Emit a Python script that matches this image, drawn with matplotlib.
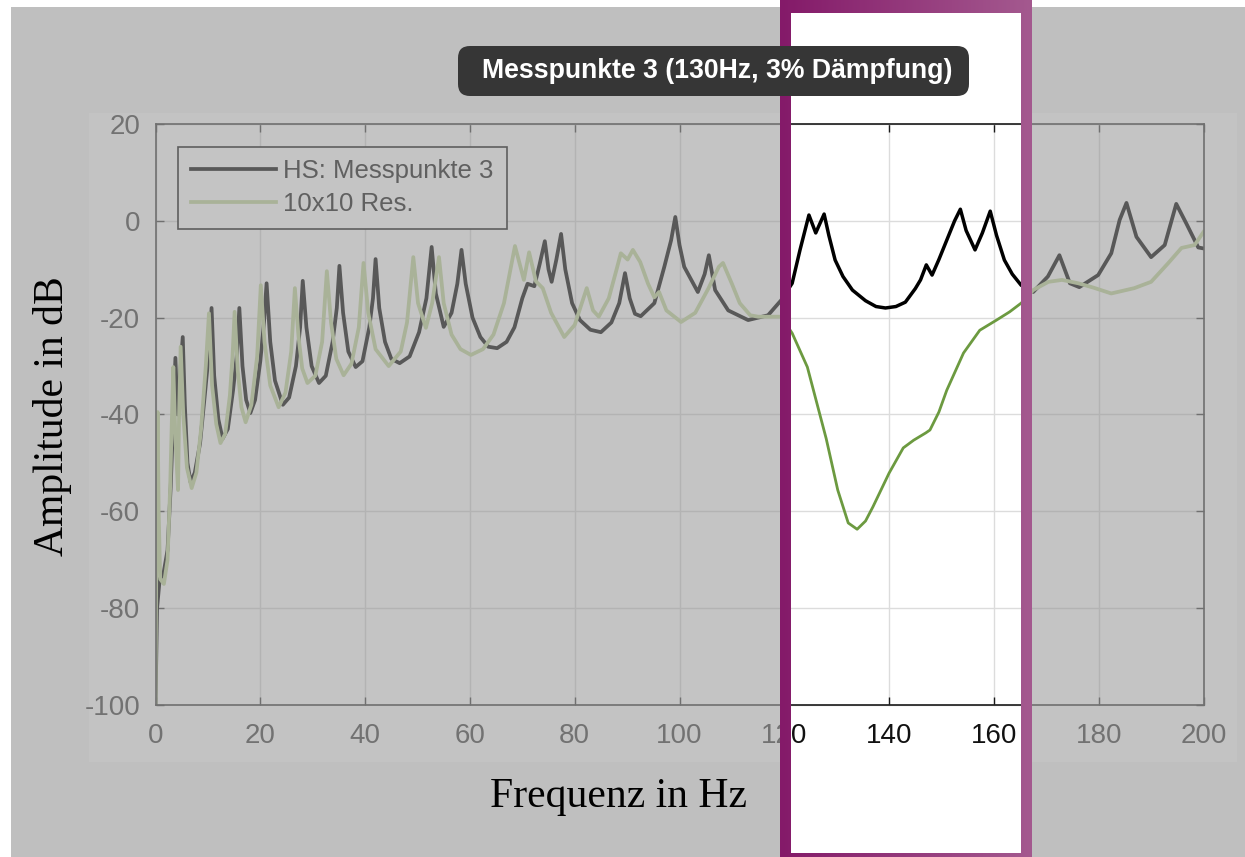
import numpy as np
import matplotlib
matplotlib.use('Agg')
import matplotlib.pyplot as plt
from matplotlib.patches import Rectangle, FancyBboxPatch
from matplotlib.transforms import Bbox, TransformedBbox
from matplotlib.colors import LinearSegmentedColormap

plt.rcParams['axes.unicode_minus'] = False
plt.rcParams['font.family'] = ['Liberation Sans', 'DejaVu Sans']

W, H = 1245, 857

# frequency response: (Hz, dB)
hs_trace = [
    (0, -100), (0.3, -80), (0.8, -74), (1.5, -73), (2.3, -68), (2.9, -55), (3.4, -40),
    (3.8, -28.3), (4.2, -40), (4.6, -33), (5.2, -24), (5.6, -38), (6.1, -50), (6.7, -54),
    (7.5, -52), (8.5, -46), (9.5, -35), (10.2, -27), (10.7, -18), (11.2, -32), (12.0, -41),
    (12.8, -45), (13.8, -43), (14.8, -35), (15.5, -28), (16.0, -18), (16.6, -30), (17.3, -37),
    (18.1, -39.7), (19.0, -37), (20.0, -29), (20.7, -21), (21.2, -12.9), (21.9, -25),
    (22.8, -33), (24.3, -38), (25.5, -36.5), (26.8, -30), (27.6, -22), (28.1, -12.4),
    (28.8, -22), (29.8, -30), (31.2, -33.5), (32.5, -32), (33.8, -25), (34.6, -18),
    (35.1, -9.3), (35.8, -19), (36.8, -27), (38.2, -30.2), (39.5, -29), (40.8, -22),
    (41.5, -16), (42.0, -7.9), (42.7, -18), (43.8, -25), (45.0, -28.5), (46.6, -29.4),
    (48.5, -28), (50.3, -23), (51.7, -16), (52.7, -5.4), (53.5, -15), (55.0, -21.9),
    (56.5, -19), (57.6, -13), (58.4, -6.0), (59.2, -13), (60.5, -20), (62.0, -24),
    (63.5, -26), (65.2, -26.3), (67.0, -25), (68.5, -22), (70.0, -16), (71.0, -13),
    (72.3, -13.5), (73.3, -9), (74.3, -4.2), (75.0, -10), (75.6, -12.6), (76.5, -8),
    (77.4, -2.7), (78.2, -10), (79.5, -17), (81.0, -20.5), (83.0, -22.5), (85.0, -23),
    (87.0, -21), (88.5, -17), (89.6, -10.8), (90.5, -16), (91.5, -19.2), (92.6, -19.7),
    (95.2, -17.0), (97.1, -9.5), (98.4, -4), (99.2, 0.8), (100.0, -5), (100.9, -9.5),
    (103.5, -14.7), (104.8, -11), (105.6, -7.1), (106.8, -14.3), (109.3, -18.5),
    (113.1, -20.5), (116.9, -19.5), (119.4, -16.4), (121.5, -12.9), (123.0, -6),
    (124.7, 1.2), (126.0, -2.5), (127.6, 1.4), (128.5, -3), (129.7, -8.1), (131.2, -11.5),
    (133.0, -14.3), (135.5, -16.5), (137.5, -17.7), (139.3, -18.0), (141.3, -17.7),
    (143.1, -16.8), (145.0, -14), (146.0, -12.2), (147.1, -9.1), (148.2, -11.2),
    (149.5, -8), (151.0, -4), (152.5, 0), (153.6, 2.4), (154.7, -2), (156.4, -6.0),
    (157.8, -2.5), (159.3, 2.0), (160.5, -3), (162.0, -8.1), (163.5, -11), (165.2, -13.3),
    (167.5, -14.7), (170.3, -11.5), (172.5, -7.1), (174.5, -12.9), (176.3, -13.7),
    (179.9, -11.2), (182.4, -6.7), (184.0, 0.2), (185.3, 3.7), (187.2, -3.3), (190.0, -7.5),
    (192.6, -5), (194.8, 3.5), (196.7, -0.5), (198.0, -3.3), (199.0, -5.5), (200.0, -5.7),
]

res_trace = [
    (0, -100), (0.2, -60), (0.4, -39.5), (0.6, -60), (0.9, -74), (1.6, -75), (2.3, -70),
    (2.8, -55), (3.1, -42), (3.4, -30.2), (3.8, -45), (4.3, -55.6), (4.5, -40), (4.8, -26),
    (5.3, -40), (6.0, -51), (6.9, -55.2), (7.8, -52), (8.7, -43), (9.6, -30), (10.2, -19.1),
    (10.8, -34), (11.6, -42), (12.4, -45.9), (13.3, -44), (14.2, -36), (14.7, -28),
    (15.1, -18.8), (15.7, -31), (16.4, -38.5), (17.2, -41.6), (18.3, -38), (19.4, -28),
    (20.1, -13.3), (20.8, -25), (21.9, -34), (23.5, -38.5), (24.8, -35.5), (25.9, -27),
    (26.6, -13.9), (27.3, -24), (28.0, -30.5), (29.0, -33.5), (30.5, -32), (31.8, -25),
    (32.7, -10.4), (33.5, -21), (34.5, -28.5), (35.9, -31.9), (37.4, -29.5), (38.8, -22),
    (39.7, -8.7), (40.6, -19), (42.0, -26.5), (44.5, -30), (46.8, -27), (48.0, -21),
    (49.2, -7.5), (50.1, -17), (51.6, -22.1), (52.8, -17), (54.1, -7.5), (55.0, -17),
    (56.5, -23.5), (58.2, -26.5), (60.2, -27.7), (62.5, -26.5), (64.5, -23.5), (66.5, -17),
    (68.6, -5.2), (70.3, -12.2), (71.3, -6.5), (72.6, -12.5), (73.9, -13.9), (75.5, -19),
    (78.0, -24), (80.0, -21.5), (82.3, -13.9), (83.5, -18.5), (84.6, -19.8), (86.5, -16),
    (88.0, -10), (88.8, -6.7), (90.1, -8), (91.1, -6), (92.5, -8.5), (94.0, -13),
    (95.2, -15.8), (96.1, -14.7), (97.5, -18.5), (100.3, -20.9), (103.0, -19), (105.5, -14),
    (107.5, -9.5), (108.3, -8.7), (110.0, -13), (111.5, -17), (113.5, -19.5), (115.0, -19.8),
    (119.4, -19.8), (121.5, -23.2), (124.4, -30.2), (126.7, -39.7), (128.0, -45),
    (130.2, -55.6), (132.2, -62.4), (133.9, -63.7), (135.5, -62), (136.9, -59.1),
    (140.0, -52.1), (142.7, -46.9), (144.7, -45.3), (147.0, -43.8), (147.8, -43.2),
    (149.5, -39.5), (151.0, -35), (154.2, -27.3), (157.3, -22.6), (160.5, -20.5),
    (163.0, -18.8), (165.2, -17.0), (167.5, -14.3), (170.4, -12.6), (173.0, -12.2),
    (176.1, -12.9), (179.0, -13.8), (182.4, -15), (186.8, -13.9), (190.0, -12.6),
    (193.3, -8.7), (195.8, -5.6), (198.3, -5.0), (200.0, -2.3),
]

freq_ticks = [0, 20, 40, 60, 80, 100, 120, 140, 160, 180, 200]
db_ticks = [-100, -80, -60, -40, -20, 0, 20]
series_labels = ['HS: Messpunkte 3', '10x10 Res.']
box_title = 'Messpunkte 3 (130Hz, 3% Dämpfung)'
x_label = 'Frequenz in Hz'
y_label = 'Amplitude in dB'

hs_f, hs_db = np.array(hs_trace).T
res_f, res_db = np.array(res_trace).T


def fig_box(x0, y0, x1, y1):
    # pixel box (top-left origin) -> figure fraction rect
    return [x0 / W, 1 - y1 / H, (x1 - x0) / W, (y1 - y0) / H]


def style_axes(ax, label_col, spine_col, grid_col):
    ax.set_xlim(0, 200)
    ax.set_ylim(-100, 20)
    ax.set_xticks(freq_ticks)
    ax.set_yticks(db_ticks)
    ax.tick_params(direction='in', top=True, right=True, length=6, width=1,
                   color=spine_col, labelcolor=label_col, labelsize=20)
    ax.tick_params(axis='x', pad=13)
    ax.tick_params(axis='y', pad=11)
    ax.grid(True, color=grid_col, lw=1)
    for s in ax.spines.values():
        s.set_color(spine_col)
        s.set_linewidth(1.2)


fig = plt.figure(figsize=(W / 100, H / 100), dpi=100, facecolor='white')
fig.add_artist(Rectangle(fig_box(11, 7, W, H)[:2], *fig_box(11, 7, W, H)[2:],
                         transform=fig.transFigure, fc='#bfbfbf', ec='none', zorder=-3))
fig.add_artist(Rectangle(fig_box(89, 113, 1237, 762)[:2], *fig_box(89, 113, 1237, 762)[2:],
                         transform=fig.transFigure, fc='#c3c3c3', ec='none', zorder=-2))

ax_pos = fig_box(155.5, 124, 1203.5, 705)

# faded background plot
ax_bg = fig.add_axes(ax_pos, zorder=0)
ax_bg.set_facecolor('#c4c4c4')
style_axes(ax_bg, '#727272', '#707070', '#b3b3b3')
ax_bg.plot(hs_f, hs_db, color='#585858', lw=2.7, label=series_labels[0])
ax_bg.plot(res_f, res_db, color='#a9b298', lw=2.7, label=series_labels[1])
leg = ax_bg.legend(loc='upper left', fontsize=18.5, fancybox=False, framealpha=1,
                   facecolor='#c4c4c4', edgecolor='#5e5e5e', labelcolor='#606060',
                   handlelength=3.3, handletextpad=0.3, labelspacing=0.32,
                   borderpad=0.5, borderaxespad=0.88)
leg.get_frame().set_linewidth(1.2)

# highlighted window
win = (791, 13, 1021, 853)
fig.add_artist(Rectangle(fig_box(*win)[:2], *fig_box(*win)[2:],
                         transform=fig.transFigure, fc='white', ec='none', zorder=1))

ax_fg = fig.add_axes(ax_pos, zorder=2)
ax_fg.patch.set_visible(False)
style_axes(ax_fg, '#111111', '#1a1a1a', '#dcdcdc')
ax_fg.plot(hs_f, hs_db, color='black', lw=2.5)
ax_fg.plot(res_f, res_db, color='#6c9a40', lw=2.0)

clip = TransformedBbox(Bbox.from_extents(win[0] / W, 1 - win[3] / H, win[2] / W, 1 - win[1] / H),
                       fig.transFigure)
clipped = list(ax_fg.lines) + list(ax_fg.spines.values())
for t in ax_fg.xaxis.get_major_ticks() + ax_fg.yaxis.get_major_ticks():
    clipped += [t.tick1line, t.tick2line, t.gridline, t.label1, t.label2]
for a in clipped:
    a.set_clip_on(True)
    a.set_clip_box(clip)

# overlay in pixel coordinates: frame, title box, axis labels
ax_ov = fig.add_axes([0, 0, 1, 1], zorder=3)
ax_ov.axis('off')
frame_cmap = LinearSegmentedColormap.from_list('frame', ['#841a69', '#a4598f'])
for x0, x1, y0, y1 in [(780, 1032, 0, 13), (780, 1032, 853, 857),
                       (780, 791, 0, 857), (1021, 1032, 0, 857)]:
    grad = np.linspace(x0, x1, 64)[None, :]
    ax_ov.imshow(grad, extent=(x0, x1, y1, y0), cmap=frame_cmap, vmin=780, vmax=1032,
                 aspect='auto', interpolation='bilinear', zorder=1)

ax_ov.add_patch(FancyBboxPatch((458, 46), 511, 50, boxstyle='round,pad=0,rounding_size=12',
                               fc='#363636', ec='none', zorder=2))
ax_ov.text(717, 71, box_title, ha='center', va='center', color='white',
           fontsize=19.2, fontweight='bold', zorder=3)
ax_ov.text(618, 807, x_label, ha='center', va='baseline', family='Liberation Serif',
           fontsize=30, color='black')
ax_ov.text(53, 416, y_label, rotation=90, ha='center', va='center',
           family='Liberation Serif', fontsize=30, color='black')
ax_ov.set_xlim(0, W)
ax_ov.set_ylim(H, 0)

fig.savefig('out.png', dpi=100)
